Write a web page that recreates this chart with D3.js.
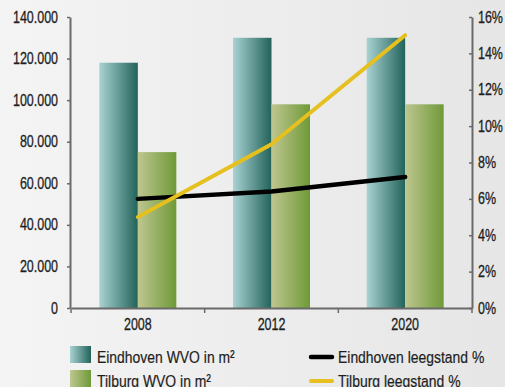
<!DOCTYPE html>
<html>
<head>
<meta charset="utf-8">
<script src="https://cdn.jsdelivr.net/npm/d3@7"></script>
<style>
  html, body { margin: 0; padding: 0; }
  body { width: 505px; height: 387px; overflow: hidden; }
  svg { display: block; font-family: "Liberation Sans", Arial, sans-serif; }
</style>
</head>
<body>
<svg id="chart" width="505" height="387"></svg>
<script>
// Office space (WVO, m²) and vacancy rate per city
const years = ["2008", "2012", "2020"];
const eindhovenWVO = [118000, 130000, 130000];
const tilburgWVO = [75000, 98000, 98000];
const eindhovenVacancy = [6.0, 6.4, 7.2];
const tilburgVacancy = [5.0, 9.0, 15.0];
const leftTicks = [0, 20000, 40000, 60000, 80000, 100000, 120000, 140000];
const rightTicks = [0, 2, 4, 6, 8, 10, 12, 14, 16];
const legendLabels = ["Eindhoven WVO in m²", "Tilburg WVO in m²", "Eindhoven leegstand %", "Tilburg leegstand %"];

const svg = d3.select("#chart");
const W = 505, H = 387;
const plot = { left: 71, right: 472, top: 17, bottom: 308 };
const NARROW = 0.78; // horizontal squeeze giving a condensed face

// squeeze each text horizontally (about its own anchor x) to a condensed width
function condense(sel, f) {
  sel.each(function () {
    const t = d3.select(this);
    const x0 = +(t.attr("x") || 0);
    t.attr("x", x0 / f).attr("transform", `scale(${f},1)`);
  });
}

const defs = svg.append("defs");
function hGrad(id, stops) {
  const g = defs.append("linearGradient").attr("id", id)
    .attr("x1", "0%").attr("x2", "100%").attr("y1", "0%").attr("y2", "0%");
  stops.forEach(([o, c]) => g.append("stop").attr("offset", o).attr("stop-color", c));
}
hGrad("bg", [["0%", "#f4f4f4"], ["100%", "#e6e6e6"]]);
hGrad("gEind", [["0%", "#a9d2d3"], ["100%", "#22635a"]]);
hGrad("gTilb", [["0%", "#bec690"], ["100%", "#6f9a38"]]);

svg.append("rect").attr("width", W).attr("height", H).attr("fill", "url(#bg)");

const x = d3.scaleBand().domain(years).range([plot.left, plot.right]).padding(0);
const barW = x.bandwidth() * 0.288;
const yL = d3.scaleLinear().domain([0, 140000]).range([plot.bottom, plot.top]);
const yR = d3.scaleLinear().domain([0, 16]).range([plot.bottom, plot.top]);

const nl = d3.formatLocale({ decimal: ",", thousands: ".", grouping: [3], currency: ["", ""] });
const fmtL = nl.format(",");

// bars
const groupStart = d => x(d) + (x.bandwidth() - 2 * barW) / 2;
svg.append("g").selectAll("rect").data(years).join("rect")
  .attr("x", d => groupStart(d))
  .attr("y", (d, i) => yL(eindhovenWVO[i]))
  .attr("width", barW)
  .attr("height", (d, i) => yL(0) - yL(eindhovenWVO[i]))
  .attr("fill", "url(#gEind)");
svg.append("g").selectAll("rect").data(years).join("rect")
  .attr("x", d => groupStart(d) + barW)
  .attr("y", (d, i) => yL(tilburgWVO[i]))
  .attr("width", barW)
  .attr("height", (d, i) => yL(0) - yL(tilburgWVO[i]))
  .attr("fill", "url(#gTilb)");

// vacancy lines
const cx = d => x(d) + x.bandwidth() / 2;
const line = d3.line().x(d => cx(d[0])).y(d => yR(d[1]));
svg.append("path")
  .datum(years.map((d, i) => [d, eindhovenVacancy[i]]))
  .attr("d", line).attr("fill", "none").attr("stroke", "#000")
  .attr("stroke-width", 4.5).attr("stroke-linecap", "round").attr("stroke-linejoin", "round");
svg.append("path")
  .datum(years.map((d, i) => [d, tilburgVacancy[i]]))
  .attr("d", line).attr("fill", "none").attr("stroke", "#e5c01f")
  .attr("stroke-width", 4).attr("stroke-linecap", "round").attr("stroke-linejoin", "round");

const axisColor = "#6a6a6a";
const textColor = "#1e1e1e";
function styleAxis(g, size) {
  g.attr("font-family", null).attr("font-size", null);
  g.selectAll(".domain").attr("stroke", axisColor).attr("stroke-width", 2);
  g.selectAll(".tick line").attr("stroke", axisColor).attr("stroke-width", 1.5);
  g.selectAll("text").attr("fill", textColor).style("font-size", size + "px")
    .attr("stroke", textColor).attr("stroke-width", 0.3);
  condense(g.selectAll("text"), NARROW);
}

// left axis
const gL = svg.append("g").attr("transform", `translate(${plot.left - 1},0)`)
  .call(d3.axisLeft(yL).tickValues(leftTicks).tickFormat(fmtL).tickSize(3).tickSizeOuter(0).tickPadding(9));
styleAxis(gL, 16);

// right axis (ticks point inward)
const gR = svg.append("g").attr("transform", `translate(${plot.right},0)`)
  .call(d3.axisRight(yR).tickValues(rightTicks).tickFormat(d => d + "%").tickSize(-3).tickSizeOuter(0).tickPadding(6));
styleAxis(gR, 16);

// bottom axis: labels centred in each band, ticks at band edges
const gB = svg.append("g").attr("transform", `translate(0,${plot.bottom})`)
  .call(d3.axisBottom(x).tickSize(0).tickSizeOuter(0).tickPadding(11));
styleAxis(gB, 16);
const edges = years.map(d => x(d)).concat([x.range()[1]]);
gB.selectAll(".edge").data(edges).join("line").attr("class", "edge")
  .attr("x1", d => d).attr("x2", d => d).attr("y1", 0).attr("y2", 5)
  .attr("stroke", axisColor).attr("stroke-width", 1.5);

// legend
const lg = svg.append("g").style("font-size", "17px").attr("fill", textColor);
const sw = [["url(#gEind)", 346], ["url(#gTilb)", 370]];
sw.forEach(([f, y], i) => {
  lg.append("rect").attr("x", 70).attr("y", y).attr("width", 21).attr("height", 17).attr("fill", f);
  lg.append("text").attr("x", 97).attr("y", y + 17).text(legendLabels[i]);
});
const ll = [["#000", 357, 4.5], ["#e5c01f", 381, 4]];
ll.forEach(([c, y, w], i) => {
  lg.append("line").attr("x1", 311).attr("x2", 332).attr("y1", y).attr("y2", y)
    .attr("stroke", c).attr("stroke-width", w).attr("stroke-linecap", "round");
  lg.append("text").attr("x", 338).attr("y", y + 6).text(legendLabels[i + 2]);
});
lg.selectAll("text").attr("stroke", textColor).attr("stroke-width", 0.2);
condense(lg.selectAll("text"), 0.82);
</script>
</body>
</html>
